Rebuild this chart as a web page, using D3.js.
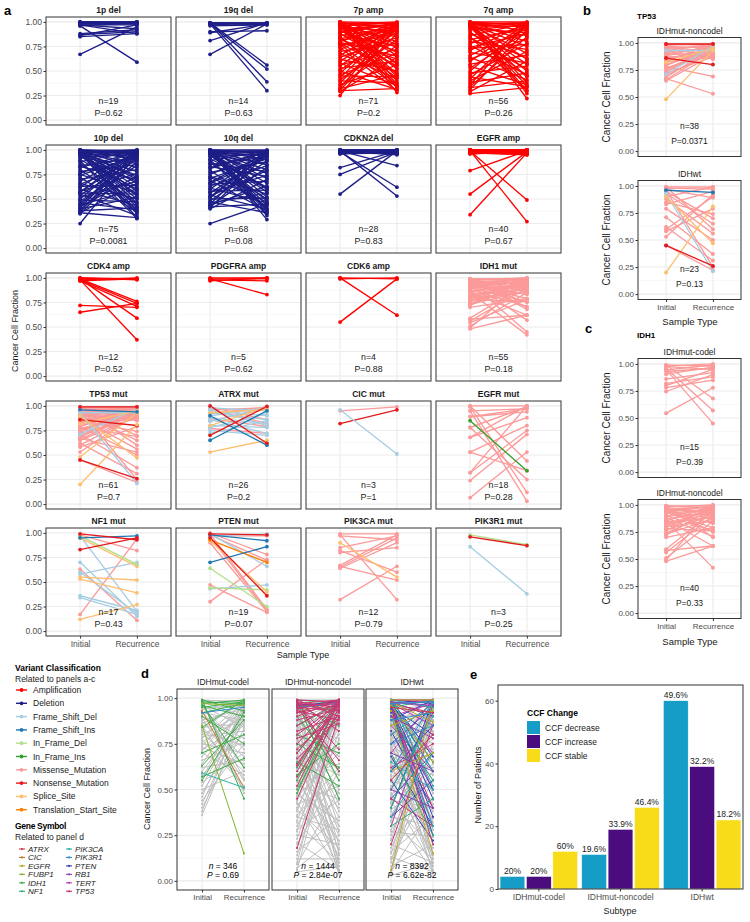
<!DOCTYPE html>
<html><head><meta charset="utf-8">
<script src="https://cdn.jsdelivr.net/npm/d3@7"></script>
<style>body{margin:0;background:#fff}svg{display:block;font-family:"Liberation Sans",Arial,Helvetica,sans-serif}</style>
</head><body><script>
// ---------------- DATA ----------------
const sampleTypes=["Initial","Recurrence"];
const yTicks=[0,0.25,0.5,0.75,1];
const minorTicks=[0.125,0.375,0.625,0.875];
const variantClasses=["Amplification","Deletion","Frame_Shift_Del","Frame_Shift_Ins","In_Frame_Del","In_Frame_Ins","Missense_Mutation","Nonsense_Mutation","Splice_Site","Translation_Start_Site"];
const variantColors=["#FF0000","#1E1E88","#A6CEE3","#1F78B4","#B2DF8A","#33A02C","#FB9A99","#E31A1C","#FDBF6F","#FF7F00"];
const geneSymbols=["ATRX","CIC","EGFR","FUBP1","IDH1","NF1","PIK3CA","PIK3R1","PTEN","RB1","TERT","TP53"];
const geneColors=["#D0394B","#C4762C","#B5A62A","#86B42C","#3AAE46","#2EAE7E","#25B3B0","#2E8BD0","#3B40B8","#8E3FB8","#C23AB0","#C93575"];

const panelTitles=["1p del","19q del","7p amp","7q amp","10p del","10q del","CDKN2A del","EGFR amp","CDK4 amp","PDGFRA amp","CDK6 amp","IDH1 mut","TP53 mut","ATRX mut","CIC mut","EGFR mut","NF1 mut","PTEN mut","PIK3CA mut","PIK3R1 mut"];
const panelN=[19,14,71,56,75,68,28,40,12,5,4,55,61,26,3,18,17,19,12,3];
const panelP=["0.62","0.63","0.2","0.26","0.0081","0.08","0.83","0.67","0.52","0.62","0.88","0.18","0.7","0.2","1","0.28","0.43","0.07","0.79","0.25"];

// [initial CCF, recurrence CCF]
const del1p=[[1,1],[.99,.99],[.98,1],[.97,.97],[.99,.98],[1,.99],[.98,.99],[.97,.93],[.88,.92],[.87,.9],[.85,.88],[.86,.97],[.67,.95],[.96,.59],[1,1],[.99,1],[.98,.98],[.96,.99],[.97,.88]];
const del19q=[[.99,.99],[.98,.98],[.99,.97],[.97,.99],[.99,.56],[.98,.52],[.99,.39],[.98,.3],[.67,.98],[.81,.99],[.9,.91],[.89,.98],[.99,.99],[.96,.97]];
const amp7p=[[1,.99],[.99,.98],[.98,1],[.97,.96],[.99,.93],[.96,.99],[.95,.9],[1,.86],[.98,.8],[.97,.74],[.99,.66],[.96,.58],[.98,.52],[.95,.45],[.99,.4],[.97,.33],[1,.28],[.93,.97],[.91,.7],[.9,.99],[.88,.55],[.86,.95],[.85,.36],[.83,.92],[.82,.62],[.8,.99],[.78,.48],[.76,.88],[.74,.3],[.72,.97],[.7,.78],[.68,.42],[.66,.99],[.64,.84],[.62,.5],[.6,.95],[.58,.35],[.56,.72],[.55,.98],[.53,.6],[.51,.9],[.5,.31],[.48,.96],[.46,.68],[.45,.44],[.43,.99],[.41,.82],[.4,.38],[.38,.93],[.36,.56],[.35,.76],[.33,.99],[.32,.46],[.31,.88],[.3,.32],[.29,.64],[.25,.97],[.99,.77],[.97,.69],[1,.57],[.98,.47],[.96,.37],[.94,.85],[.92,.53],[.89,.98],[.87,.75],[.84,.43],[.81,.96],[.79,.65],[.77,.34],[.75,.91]];
const amp7q=[[1,1],[.99,.98],[.98,.99],[.97,.95],[.99,.91],[.96,.86],[1,.8],[.98,.75],[.97,.68],[.99,.62],[.95,.57],[.98,.5],[.96,.44],[.99,.38],[.97,.3],[.94,.99],[.92,.97],[.88,.63],[.86,.99],[.84,.52],[.82,.94],[.8,.72],[.78,.97],[.76,.46],[.74,.88],[.71,.99],[.69,.58],[.66,.93],[.64,.41],[.62,.83],[.6,.98],[.57,.66],[.55,.36],[.53,.9],[.5,.97],[.48,.55],[.46,.78],[.44,.34],[.42,.96],[.4,.7],[.38,.48],[.36,.99],[.34,.85],[.33,.4],[.31,.92],[.29,.6],[.27,.33],[.99,.22],[.98,.27],[.95,.35],[.9,.45],[.85,.3],[.97,.99],[1,.96],[.93,.89],[.73,.77]];
const del10p=[[1,.99],[.99,1],[.98,.97],[.99,.95],[.97,.93],[1,.9],[.98,.86],[.99,.82],[.97,.78],[.96,.74],[1,.7],[.98,.66],[.99,.62],[.97,.58],[.95,.55],[.98,.5],[.99,.46],[.96,.42],[1,.38],[.97,.35],[.98,.31],[.94,.99],[.92,.97],[.9,.6],[.88,.99],[.86,.45],[.84,.92],[.83,.7],[.82,.98],[.8,.4],[.78,.85],[.76,.99],[.75,.56],[.74,.94],[.72,.37],[.7,.8],[.68,.98],[.66,.5],[.65,.89],[.63,.64],[.62,.99],[.6,.43],[.58,.76],[.57,.96],[.56,.55],[.55,.33],[.54,.91],[.52,.68],[.5,.99],[.49,.47],[.48,.84],[.46,.39],[.45,.95],[.44,.6],[.42,.73],[.41,.98],[.4,.52],[.39,.88],[.38,.41],[.37,.99],[.36,.31],[.36,.66],[.35,.93],[.25,.96],[.99,.99],[.98,.99],[1,.98],[.97,1],[.99,.72],[.98,.53],[.96,.36],[.93,.68],[.89,.3],[.57,.99],[.43,.97]];
const del10q=[[1,1],[.99,.97],[.98,.99],[.97,.94],[1,.9],[.99,.85],[.98,.8],[.97,.76],[.99,.71],[1,.66],[.98,.61],[.97,.57],[.99,.52],[.96,.48],[.98,.44],[1,.4],[.97,.37],[.99,.29],[.95,.98],[.93,.96],[.91,.62],[.89,.99],[.87,.5],[.85,.93],[.83,.73],[.81,.98],[.79,.42],[.77,.88],[.75,.99],[.73,.55],[.71,.91],[.69,.38],[.67,.97],[.65,.68],[.63,.84],[.61,.46],[.6,.99],[.58,.59],[.56,.94],[.54,.4],[.53,.79],[.51,.97],[.5,.51],[.48,.89],[.47,.36],[.45,.99],[.44,.63],[.43,.82],[.42,.45],[.41,.96],[.4,.7],[.25,.45],[.99,.99],[.98,.98],[1,.97],[.97,.99],[.96,.85],[.94,.6],[.9,.35],[.86,.78],[.82,.99],[.72,.47],[.66,.93],[.57,.74],[.52,.99],[.46,.56],[.99,.33],[.98,.39]];
const delCDKN2A=[[.99,.99],[1,.98],[.98,1],[.97,.97],[.99,.96],[1,1],[.98,.99],[.97,.98],[.99,1],[.96,.97],[.98,.96],[1,.99],[.99,.97],[.97,1],[.98,.98],[.99,.95],[1,.97],[.96,.99],[.98,.97],[.99,.98],[.97,.96],[1,1],[.99,.84],[.98,.62],[.99,.53],[.82,.99],[.75,.98],[.55,.99]];
const ampEGFR=[[1,1],[.99,.99],[.98,.98],[1,.97],[.99,1],[.97,.99],[.98,.96],[1,.98],[.99,.97],[.98,1],[.97,.98],[1,.99],[.99,.96],[.98,.99],[1,.95],[.99,.98],[.97,1],[.98,.97],[1,1],[.99,.99],[.96,.98],[.98,.98],[1,.97],[.99,1],[.97,.96],[.98,.99],[1,.98],[.99,.97],[.98,1],[.97,.95],[1,.99],[.99,.98],[.98,.96],[.96,.99],[.99,1],[.79,.99],[.55,.98],[.34,.97],[.99,.49],[.99,.27]];
const ampCDK4=[[.99,.99],[1,.99],[.98,1],[.97,.99],[.99,.76],[.98,.74],[.99,.59],[.98,.37],[.72,.7],[.65,.74],[.97,.71],[1,.98]];
const ampPDGFRA=[[1,1],[.99,.99],[.98,.97],[.97,1],[.99,.83]];
const ampCDK6=[[1,.99],[.99,1],[.55,.99],[1,.62]];
const mutEGFR=[[1,1],[.95,.97],[.89,.94],[.78,.99],[.68,.88],[.53,.8],[.32,.75],[.24,.71],[.065,.53],[1,.44],[.99,.12],[.95,.03],[.89,.97],[.78,.25],[.68,1],[.53,.34],[.32,1],[.85,.34,5]];
const mutCIC=[[.95,.99,6],[.82,.96,7],[.96,.51,2]];
const mutATRX=[[.99,.86,6],[.97,.82,6],[.96,.98,6],[.87,.79,6],[.85,.97,6],[.77,.72,6],[.92,.99,6],[.98,.95,2],[.95,.9,2],[.93,.86,2],[.9,.98,2],[.88,.82,2],[.86,.72,2],[.84,.99,2],[.8,.78,2],[.78,.92,2],[.75,.7,2],[.72,.85,2],[.97,.8,2],[.93,.96,8],[.8,.99,8],[.53,.65,8],[.65,.95,3],[.9,.6,3],[.7,.995,7],[1,.62,7]];
const mutNF1=[[.98,.82,6],[.63,.11,6],[.17,.94,6],[.97,.2,2],[.7,.15,2],[.6,.18,2],[.58,.7,2],[.36,.21,2],[.34,.17,2],[.95,.66,8],[.55,.52,8],[.53,.39,8],[.12,.27,8],[.97,.68,4],[.95,.97,3],[.83,.95,7],[.99,.93,7]];
const mutPTEN=[[1,.78,6],[.98,.72,6],[.96,.21,6],[.47,.19,6],[.3,.73,6],[.99,.22,6],[.97,.97,6],[.9,.2,6],[.97,.99,2],[.43,.47,2],[.99,.66,2],[.64,.25,4],[.44,.42,4],[.92,.4,8],[.93,.7,9],[.7,.86,3],[.98,.92,3],[.99,.98,7],[.95,.36,7]];
const mutPIK3CA=[[.99,.99],[.97,.93],[.85,.97],[.82,.6],[.67,.98],[.65,.95],[.64,.9],[.66,.52],[.32,.66],[.98,.32],[.8,.85],[.9,.55,8]];
const mutPIK3R1=[[.98,.88,4],[.96,.87,7],[.86,.38,2]];

// panel b: TP53 (missense unless class given)
const tp53Noncodel=[[.99,.98],[.98,.99],[.97,.95],[.96,.92],[.95,.97],[.94,.89],[.93,.99],[.92,.94],[.91,.87],[.9,.96],[.89,.91],[.88,.98],[.87,.88],[.86,.93],[.85,.95],[.84,.86],[.83,.99],[.82,.9],[.8,.94],[.79,.97],[.78,.69],[.77,.89],[.76,.95],[.75,.92],[.73,.98],[.72,.87],[.7,.91],[.68,.96],[.67,.53],[.66,.93],[.65,.89],[.98,.85],[.71,.97,2],[.93,.93,2],[.48,.93,8],[.82,.95,8],[.99,.99,7],[.86,.8,7]];
const tp53IDHwt=[[.99,.99],[.98,.97],[.97,.89],[.95,.7],[.93,.65],[.88,.56],[.83,.95],[.79,.5],[.71,.37],[.62,.31],[.58,.79],[.53,.92],[.99,.6],[.96,.25],[.45,.22],[.9,.99],[.85,.74],[.6,.9],[.96,.94,3],[.93,.21,2],[.2,.81,8],[.9,.47,8],[.45,.26,7]];
// panel c: IDH1 (missense)
const idh1Codel=[[.99,.98],[.975,.95],[.945,.99],[.905,.97],[.86,.92],[.82,.88],[.8,.95],[.78,.85],[.745,.9],[.545,.78],[.99,.68],[.96,.57],[.95,.45],[.93,.96],[.98,1]];
const idh1Noncodel=[[.99,.99],[.99,.97],[.98,1],[.97,.93],[.97,.9],[.96,.98],[.95,.87],[.95,.95],[.94,.83],[.93,.99],[.93,.79],[.92,.96],[.9,.92],[.9,.76],[.89,.98],[.88,.71],[.87,.94],[.86,.62],[.85,.99],[.84,.88],[.82,.96],[.81,.93],[.8,.85],[.79,.98],[.78,.76],[.77,.9],[.76,1],[.74,.93],[.73,.87],[.72,.97],[.7,.79],[.59,.94],[.58,.62],[.56,.9],[.51,.85],[.49,.99],[.48,.62],[.85,.42],[.99,.7],[.96,.75]];

// panel d: [initial, recurrence] gray; [initial, recurrence, gene index] colored
const dSubtypes=["IDHmut-codel","IDHmut-noncodel","IDHwt"];
const dN=["346","1444","8392"];
const dP=["0.69","2.84e-07","6.62e-82"];
const dCodelGray=[[.99,.98],[.98,.9],[.97,.99],[.96,.84],[.99,.95],[.95,.72],[.94,.97],[.93,.62],[.92,.88],[.91,.99],[.9,.78],[.89,.55],[.88,.94],[.87,.68],[.86,.97],[.85,.5],[.84,.86],[.83,.99],[.82,.74],[.81,.6],[.8,.92],[.79,.82],[.78,.98],[.77,.52],[.76,.9],[.75,.7],[.74,.96],[.73,.64],[.72,.85],[.71,.99],[.7,.58],[.68,.93],[.66,.76],[.64,.97],[.62,.66],[.6,.9],[.58,.8],[.56,.98],[.54,.7],[.52,.94],[.5,.6],[.48,.87],[.46,.97],[.44,.75],[.42,.92],[.4,.83],[.38,.96],[.36,.9],[.99,.48],[.97,.56]];
const dCodelGene=[[.98,.97,4],[.99,.93,4],[.97,.99,4],[.95,.98,4],[.96,.9,4],[.92,.97,4],[.99,.45,4],[.97,.62,4],[.9,.75,4],[.84,.99,4],[.7,.8,4],[.63,.88,4],[.55,.92,4],[.57,.67,4],[.92,.95,7],[.93,.51,1],[.59,.51,6],[.85,.15,3],[.97,.96,3]];
const dNoncodelGray=[[.99,.99],[.98,.9],[.97,.75],[.96,.6],[.99,.45],[.95,.3],[.98,.15],[.97,.05],[.94,.98],[.93,.82],[.92,.55],[.91,.38],[.9,.2],[.89,.97],[.88,.68],[.87,.42],[.86,.1],[.85,.93],[.84,.78],[.83,.5],[.82,.27],[.81,.99],[.8,.62],[.79,.08],[.78,.88],[.77,.35],[.76,.96],[.75,.7],[.74,.17],[.73,.91],[.72,.48],[.71,.04],[.7,.99],[.69,.58],[.68,.25],[.67,.85],[.66,.12],[.65,.95],[.64,.4],[.63,.73],[.62,.98],[.61,.3],[.6,.87],[.58,.06],[.57,.64],[.56,.97],[.55,.22],[.54,.8],[.52,.45],[.51,.99],[.5,.14],[.48,.9],[.47,.33],[.46,.7],[.44,.96],[.43,.05],[.42,.52],[.4,.84],[.39,.18],[.38,.99],[.36,.62],[.35,.28],[.33,.92],[.32,.1],[.3,.77],[.28,.44],[.27,.98],[.25,.2],[.23,.88],[.21,.06],[.2,.6],[.18,.95],[.16,.35],[.14,.82],[.12,.12],[.1,.99],[.09,.5],[.07,.25],[.06,.9],[.05,.08]];
const dNoncodelGene=[[.99,.55,4],[.98,.45,4],[.97,.93,4],[.95,.99,4],[.9,.6,4],[.85,.97,4],[.8,.7,4],[.75,.62,4],[.7,.99,4],[.62,.97,4],[.55,.98,4],[.5,.92,4],[.48,.99,4],[.99,.97,4],[.96,.85,4],[.58,.75,4],[.65,.52,4],[.97,.95,0],[.92,.99,0],[.95,.97,7],[.96,.98,8],[.99,.98,11],[.98,.95,11],[.97,.99,11],[.99,.9,11],[.96,.97,11],[.95,.93,11],[.94,.99,11],[.93,.88,11],[.98,.82,11],[.92,.96,11],[.9,.99,11],[.88,.94,11],[.85,.98,11],[.82,.9,11],[.8,.97,11],[.78,.86,11],[.75,.99,11],[.72,.93,11],[.7,.97,11],[.67,.89,11],[.64,.96,11],[.6,.99,11],[.57,.92,11],[.52,.98,11],[.45,.95,11],[.18,.9,11],[.99,.6,11],[.97,.72,11],[.95,.66,11],[.63,.99,11]];
const dWtGray=[[.99,.99],[.98,.85],[.97,.65],[.96,.45],[.99,.25],[.95,.08],[.94,.96],[.93,.75],[.92,.55],[.91,.32],[.9,.12],[.89,.92],[.88,.7],[.87,.48],[.86,.2],[.85,.99],[.84,.82],[.83,.6],[.82,.38],[.81,.04],[.8,.9],[.79,.66],[.78,.28],[.77,.97],[.76,.5],[.75,.15],[.74,.86],[.73,.42],[.72,.99],[.71,.72],[.7,.1],[.69,.94],[.68,.58],[.67,.34],[.66,.8],[.65,.06],[.64,.98],[.63,.62],[.62,.22],[.61,.88],[.6,.44],[.58,.96],[.57,.7],[.56,.14],[.55,.9],[.54,.52],[.52,.3],[.51,.99],[.5,.78],[.48,.08],[.47,.64],[.46,.93],[.44,.4],[.43,.18],[.42,.85],[.4,.97],[.39,.55],[.38,.05],[.36,.75],[.35,.3],[.33,.9],[.32,.12],[.3,.99],[.28,.6],[.27,.24],[.25,.82],[.23,.45],[.22,.95],[.2,.1],[.18,.7],[.16,.35],[.15,.88],[.13,.05],[.12,.55],[.1,.98],[.08,.2],[.06,.75],[.05,.4],[.04,.92],[.03,.1]];
const dWtGene=[[.99,.98,10],[.98,.95,10],[.97,.99,10],[.96,.7,10],[.99,.5,10],[.95,.3,10],[.9,.97,10],[.7,.99,10],[.5,.92,10],[.3,.96,10],[.97,.85,10],[.85,.6,10],[.99,.97,8],[.98,.6,8],[.97,.45,8],[.96,.35,8],[.95,.8,8],[.94,.25,8],[.92,.5,8],[.88,.99,8],[.82,.4,8],[.75,.95,8],[.68,.3,8],[.6,.85,8],[.55,.22,8],[.45,.7,8],[.4,.98,8],[.35,.55,8],[.98,.9,8],[.99,.68,8],[.99,.99,11],[.97,.92,11],[.93,.4,11],[.8,.97,11],[.62,.75,11],[.45,.3,11],[.2,.85,11],[.98,.2,11],[.99,.95,6],[.97,.6,6],[.9,.3,6],[.8,.97,6],[.65,.5,6],[.5,.9,6],[.35,.7,6],[.98,.52,6],[.95,.99,5],[.9,.55,5],[.7,.25,5],[.4,.95,5],[.3,.45,5],[.99,.65,5],[.99,.99,2],[.96,.65,2],[.85,.93,2],[.6,.7,2],[.06,.99,2],[.98,.87,2],[.93,.15,2],[.98,.96,9],[.9,.78,9],[.7,.6,9],[.5,.4,9],[.97,.98,7],[.88,.92,7],[.75,.85,7],[.6,.98,7],[.95,.92,0],[.55,.8,0]];

// panel e
const subtypes=["IDHmut-codel","IDHmut-noncodel","IDHwt"];
const ccfChange=["CCF decrease","CCF increase","CCF stable"];
const ccfColors=["#159DC8","#4B0C7D","#F8DC1A"];
const ccfCounts=[[4,4,12],[11,19,26],[60,39,22]];
const ccfPct=[["20%","20%","60%"],["19.6%","33.9%","46.4%"],["49.6%","32.2%","18.2%"]];
const eTicks=[0,20,40,60];

// ---------------- DRAW ----------------
const svg=d3.select("body").append("svg").attr("width",750).attr("height",922);
const TXT="#4D4D4D";

function withCls(arr,def){return arr.map(d=>[d[0],d[1],d.length>2?d[2]:def]);}

function pairPanel(o){
  const g=svg.append("g");
  const x=d3.scalePoint().domain(sampleTypes).range([o.x,o.x+o.w]).padding(0.6);
  const y=d3.scaleLinear().domain([-0.05,1.05]).range([o.y+o.h,o.y]);
  g.append("rect").attr("x",o.x).attr("y",o.y).attr("width",o.w).attr("height",o.h).attr("fill","#fff");
  g.selectAll(".mn").data(minorTicks).join("line").attr("x1",o.x).attr("x2",o.x+o.w).attr("y1",d=>y(d)).attr("y2",d=>y(d)).attr("stroke","#F2F2F2").attr("stroke-width",0.6);
  g.selectAll(".mj").data(yTicks).join("line").attr("x1",o.x).attr("x2",o.x+o.w).attr("y1",d=>y(d)).attr("y2",d=>y(d)).attr("stroke","#EBEBEB").attr("stroke-width",1.1);
  g.selectAll(".vx").data(sampleTypes).join("line").attr("x1",d=>x(d)).attr("x2",d=>x(d)).attr("y1",o.y).attr("y2",o.y+o.h).attr("stroke","#EBEBEB").attr("stroke-width",1.1);
  const col=o.colorOf;
  g.selectAll(".ln").data(o.data).join("line")
    .attr("x1",x("Initial")).attr("x2",x("Recurrence"))
    .attr("y1",d=>y(d[0])).attr("y2",d=>y(d[1]))
    .attr("stroke",d=>col(d)).attr("stroke-width",o.lw||1.3);
  if(o.r>0){
    o.data.forEach(d=>{
      g.append("circle").attr("cx",x("Initial")).attr("cy",y(d[0])).attr("r",o.r).attr("fill",col(d));
      g.append("circle").attr("cx",x("Recurrence")).attr("cy",y(d[1])).attr("r",o.r).attr("fill",col(d));
    });
  }
  g.append("rect").attr("x",o.x).attr("y",o.y).attr("width",o.w).attr("height",o.h).attr("fill","none").attr("stroke","#333").attr("stroke-width",1);
  if(o.showY){
    const ax=g.append("g").attr("transform",`translate(${o.x},0)`).call(d3.axisLeft(y).tickValues(yTicks).tickFormat(d3.format(".2f")).tickSize(2.5).tickPadding(1.5));
    ax.select(".domain").remove();
    ax.selectAll("line").attr("stroke","#333");
    ax.selectAll("text").attr("fill",TXT).style("font-size",(o.tick||8.5)+"px").style("font-family","inherit");
  }
  if(o.showX){
    const ax=g.append("g").attr("transform",`translate(0,${o.y+o.h})`).call(d3.axisBottom(x).tickSize(2.5).tickPadding(2));
    ax.select(".domain").remove();
    ax.selectAll("line").attr("stroke","#333");
    ax.selectAll("text").attr("fill",TXT).style("font-size",(o.tick||8.5)+"px").style("font-family","inherit");
  }
  if(o.title){
    g.append("text").attr("x",o.x+o.w/2).attr("y",o.y-4).attr("text-anchor","middle")
      .style("font-size",(o.titleSize||8.5)+"px").style("font-weight",o.bold?"bold":"normal").attr("fill","#1A1A1A").text(o.title);
  }
  if(o.n!==undefined){
    const cx=(x("Initial")+x("Recurrence"))/2;
    if(o.italic){
      const t1=g.append("text").attr("x",cx).attr("y",y(o.nY)).attr("text-anchor","middle").style("font-size",o.nSize+"px").attr("fill","#000");
      t1.append("tspan").style("font-style","italic").text("n");t1.append("tspan").text(" = "+o.n);
      const t2=g.append("text").attr("x",cx).attr("y",y(o.pY)).attr("text-anchor","middle").style("font-size",o.nSize+"px").attr("fill","#000");
      t2.append("tspan").style("font-style","italic").text("P");t2.append("tspan").text(" = "+o.p);
    } else {
      g.append("text").attr("x",cx).attr("y",y(o.nY)).attr("text-anchor","middle").style("font-size",o.nSize+"px").attr("fill","#1A1A1A").text("n="+o.n);
      g.append("text").attr("x",cx).attr("y",y(o.pY)).attr("text-anchor","middle").style("font-size",o.nSize+"px").attr("fill","#1A1A1A").text("P="+o.p);
    }
  }
  return {x,y};
}

// ---- panel a ----
const aData=[withCls(del1p,1),withCls(del19q,1),withCls(amp7p,0),withCls(amp7q,0),
  withCls(del10p,1),withCls(del10q,1),withCls(delCDKN2A,1),withCls(ampEGFR,0),
  withCls(ampCDK4,0),withCls(ampPDGFRA,0),withCls(ampCDK6,0),withCls(idh1Codel.concat(idh1Noncodel),6),
  withCls(tp53Noncodel,6).concat(withCls(tp53IDHwt,6)),withCls(mutATRX,6),withCls(mutCIC,6),withCls(mutEGFR,6),
  withCls(mutNF1,6),withCls(mutPTEN,6),withCls(mutPIK3CA,6),withCls(mutPIK3R1,6)];
const aColX=[46,176,306,436], aRowY=[17,145,273,401,528];
panelTitles.forEach((t,i)=>{
  const c=i%4, r=Math.floor(i/4);
  // draw missense first so other classes are visible on top
  const data=aData[i].slice().sort((a,b)=>(a[2]===6?0:1)-(b[2]===6?0:1));
  pairPanel({x:aColX[c],y:aRowY[r],w:125,h:108,data,colorOf:d=>variantColors[d[2]],
    title:t,bold:true,titleSize:8.5,showY:c===0,showX:r===4,n:panelN[i],p:panelP[i],nY:0.165,pY:0.045,nSize:8.8,r:1.9,lw:1.35});
});
svg.append("text").attr("transform","translate(18,331) rotate(-90)").attr("text-anchor","middle").style("font-size","9px").attr("fill","#1A1A1A").text("Cancer Cell Fraction");
svg.append("text").attr("x",303).attr("y",658).attr("text-anchor","middle").style("font-size","9px").attr("fill","#1A1A1A").text("Sample Type");

// ---- panel b / c ----
function bcPanel(top,strip,data,n,p,showX){
  pairPanel({x:638,y:top,w:103,h:119,data,colorOf:d=>variantColors[d[2]],
    title:strip,bold:false,titleSize:8.5,showY:true,showX,n,p,nY:0.2,pY:0.07,nSize:8.5,r:2,lw:1.3,tick:8});
  svg.append("text").attr("transform",`translate(610,${top+59.5}) rotate(-90)`).attr("text-anchor","middle").style("font-size","10px").attr("fill","#1A1A1A").text("Cancer Cell Fraction");
}
function sortMis(arr){return arr.slice().sort((a,b)=>(a[2]===6?0:1)-(b[2]===6?0:1));}
bcPanel(37.5,"IDHmut-noncodel",sortMis(withCls(tp53Noncodel,6)),38,"0.0371",false);
bcPanel(180.5,"IDHwt",sortMis(withCls(tp53IDHwt,6)),23,"0.13",true);
svg.append("text").attr("x",690).attr("y",325).attr("text-anchor","middle").style("font-size","9.5px").attr("fill","#1A1A1A").text("Sample Type");
bcPanel(358.5,"IDHmut-codel",withCls(idh1Codel,6),15,"0.39",false);
bcPanel(499.5,"IDHmut-noncodel",withCls(idh1Noncodel,6),40,"0.33",true);
svg.append("text").attr("x",690).attr("y",645).attr("text-anchor","middle").style("font-size","9.5px").attr("fill","#1A1A1A").text("Sample Type");
svg.append("text").attr("x",637).attr("y",19).style("font-size","8px").style("font-weight","bold").text("TP53");
svg.append("text").attr("x",637).attr("y",338).style("font-size","8px").style("font-weight","bold").text("IDH1");

// panel letters
[["a",4,15],["b",583,15],["c",585,333],["d",141,678],["e",470,679]].forEach(l=>{
  svg.append("text").attr("x",l[1]).attr("y",l[2]).style("font-size","13px").style("font-weight","bold").text(l[0]);
});

// ---- legend (variant classification / gene symbol) ----
const lg=svg.append("g");
lg.append("text").attr("x",15).attr("y",671).style("font-size","8.5px").style("font-weight","bold").text("Variant Classification");
lg.append("text").attr("x",15).attr("y",682).style("font-size","8.5px").attr("fill","#1A1A1A").text("Related to panels a-c");
variantClasses.forEach((v,i)=>{
  const cy=690+13.3*i;
  lg.append("line").attr("x1",16).attr("x2",27).attr("y1",cy).attr("y2",cy).attr("stroke",variantColors[i]).attr("stroke-width",1.4);
  lg.append("circle").attr("cx",21.5).attr("cy",cy).attr("r",1.9).attr("fill",variantColors[i]);
  lg.append("text").attr("x",33).attr("y",cy+3).style("font-size","8.5px").attr("fill","#1A1A1A").text(v);
});
lg.append("text").attr("x",15).attr("y",829).style("font-size","8.5px").style("font-weight","bold").style("letter-spacing","-0.3px").text("Gene Symbol");
lg.append("text").attr("x",15).attr("y",839.5).style("font-size","8.5px").attr("fill","#1A1A1A").text("Related to panel d");
geneSymbols.forEach((gs,i)=>{
  const c=Math.floor(i/6), r=i%6;
  const gx=c===0?19:66, cy=849+8.45*r;
  lg.append("line").attr("x1",gx).attr("x2",gx+6).attr("y1",cy).attr("y2",cy).attr("stroke",geneColors[i]).attr("stroke-width",1.1);
  lg.append("circle").attr("cx",gx+3).attr("cy",cy).attr("r",1.1).attr("fill",geneColors[i]);
  lg.append("text").attr("x",gx+9).attr("y",cy+3).style("font-size","8px").style("font-style","italic").attr("fill","#1A1A1A").text(gs);
});

// ---- panel d ----
const dX=[177,272,366];
const dGray=[dCodelGray,dNoncodelGray,dWtGray], dGene=[dCodelGene,dNoncodelGene,dWtGene];
dSubtypes.forEach((s,i)=>{
  const data=dGray[i].map(d=>[d[0],d[1],-1]).concat(dGene[i]);
  pairPanel({x:dX[i],y:689,w:92,h:201,data,colorOf:d=>d[2]<0?"#BEBEBE":geneColors[d[2]],
    title:s,bold:false,titleSize:8.5,showY:i===0,showX:true,n:dN[i],p:dP[i],nY:0.065,pY:0.018,nSize:8.5,italic:true,r:1.1,lw:1,tick:8});
});
svg.append("text").attr("transform","translate(150,789) rotate(-90)").attr("text-anchor","middle").style("font-size","9px").attr("fill","#1A1A1A").text("Cancer Cell Fraction");

// ---- panel e ----
const eg=svg.append("g");
const ex=d3.scaleBand().domain(subtypes).range([498,743]).paddingInner(0.05).paddingOuter(0.025);
const exi=d3.scaleBand().domain(ccfChange).range([0,ex.bandwidth()]).paddingInner(0.06);
const ey=d3.scaleLinear().domain([0,65]).range([889,685]);
eg.append("rect").attr("x",498).attr("y",685).attr("width",245).attr("height",204).attr("fill","#fff");
subtypes.forEach((s,i)=>{
  ccfChange.forEach((c,j)=>{
    const v=ccfCounts[i][j];
    const bx=ex(s)+exi(c);
    eg.append("rect").attr("x",bx).attr("y",ey(v)).attr("width",exi.bandwidth()).attr("height",ey(0)-ey(v))
      .attr("fill",ccfColors[j]).attr("stroke","#fff").attr("stroke-width",0.5);
    eg.append("text").attr("x",bx+exi.bandwidth()/2).attr("y",ey(v)-2.5).attr("text-anchor","middle")
      .style("font-size","8.5px").attr("fill","#1A1A1A").text(ccfPct[i][j]);
  });
});
eg.append("rect").attr("x",498).attr("y",685).attr("width",245).attr("height",204).attr("fill","none").attr("stroke","#333").attr("stroke-width",1);
const eyA=eg.append("g").attr("transform","translate(498,0)").call(d3.axisLeft(ey).tickValues(eTicks).tickSize(2.5).tickPadding(1.5));
eyA.select(".domain").remove();eyA.selectAll("line").attr("stroke","#333");
eyA.selectAll("text").attr("fill",TXT).style("font-size","8px").style("font-family","inherit");
const exA=eg.append("g").attr("transform","translate(0,889)").call(d3.axisBottom(ex).tickSize(2.5).tickPadding(2));
exA.select(".domain").remove();exA.selectAll("line").attr("stroke","#333");
exA.selectAll("text").attr("fill",TXT).style("font-size","8.5px").style("font-family","inherit");
eg.append("text").attr("transform","translate(481,785) rotate(-90)").attr("text-anchor","middle").style("font-size","9px").attr("fill","#1A1A1A").text("Number of Patients");
eg.append("text").attr("x",620).attr("y",914).attr("text-anchor","middle").style("font-size","9px").attr("fill","#1A1A1A").text("Subtype");
eg.append("text").attr("x",527).attr("y",716).style("font-size","8.5px").style("font-weight","bold").text("CCF Change");
ccfChange.forEach((c,j)=>{
  eg.append("rect").attr("x",527).attr("y",721+14*j).attr("width",13).attr("height",13).attr("fill",ccfColors[j]);
  eg.append("text").attr("x",545).attr("y",730.5+14*j).style("font-size","8.5px").attr("fill","#1A1A1A").text(c);
});
</script></body></html>
